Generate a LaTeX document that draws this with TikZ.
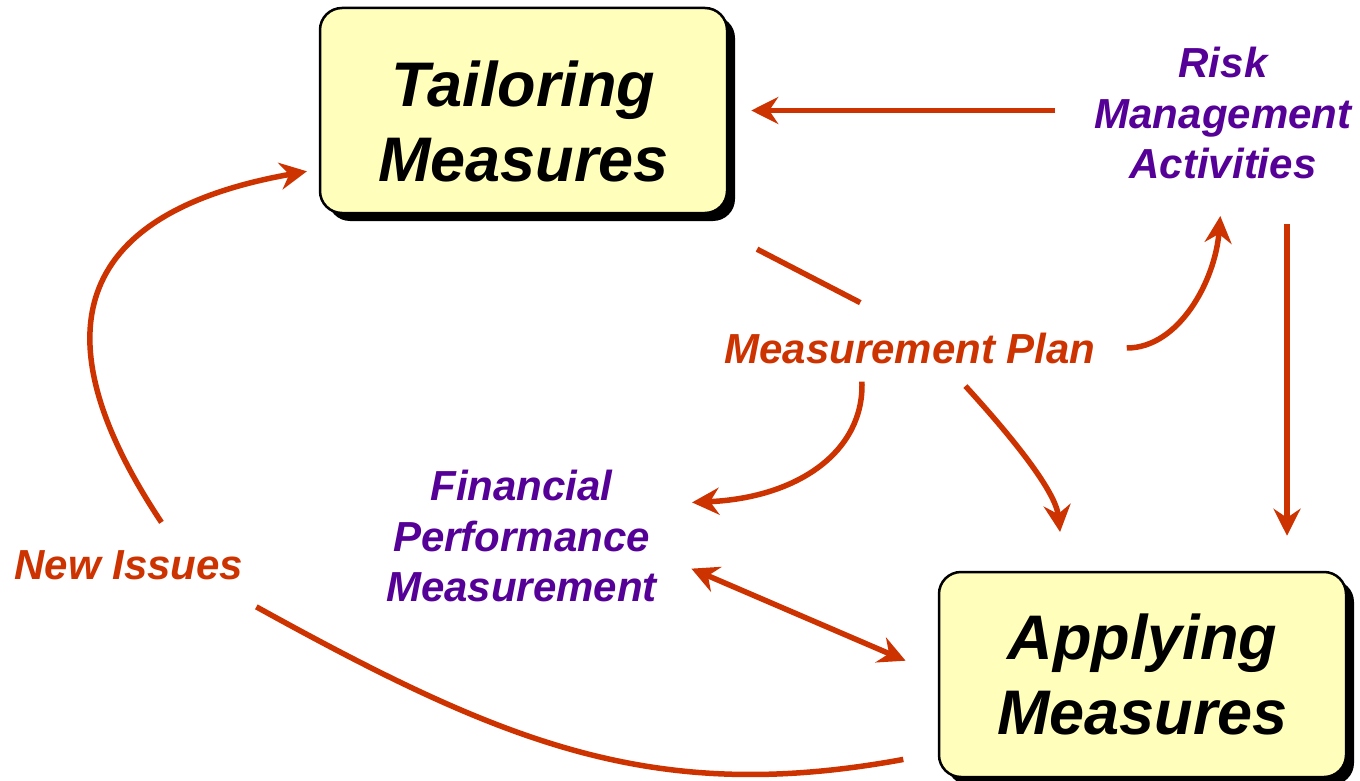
\documentclass[tikz,border=0pt]{standalone}
\usepackage{fontspec}
\setmainfont{Liberation Sans}
\usetikzlibrary{arrows.meta,shadows}
\definecolor{planred}{RGB}{204,51,0}
\definecolor{actpurple}{RGB}{85,0,150}
\definecolor{boxyellow}{RGB}{255,255,187}
\tikzset{
x=1pt, y=-1pt, % one unit is one pixel of the page, y going down
>={Stealth[length=27pt, width=27pt, inset=9pt]}, % big kite heads
measure/.style={draw=black, line width=2.5pt, rounded corners=22pt, fill=boxyellow,
  minimum width=407pt, minimum height=205pt,
  drop shadow={shadow xshift=8pt, shadow yshift=-8pt, fill=black, opacity=1}}, % the two main boxes
measuretext/.style={align=center, font=\fontsize{63}{75}\selectfont\bfseries\itshape}, % text in the boxes
activity/.style={align=center, inner sep=4pt, text=actpurple,
  font=\fontsize{42}{50.5}\selectfont\bfseries\itshape}, % purple texts
flow/.style={inner sep=4pt, text=planred,
  font=\fontsize{42}{50}\selectfont\bfseries\itshape}, % red texts
link/.style={draw=planred, line width=5.5pt}, % plain connector
arr/.style={link, ->}, % connector with a head
}

\begin{document}
\begin{tikzpicture}
\useasboundingbox (0,0) rectangle (1360,781);

\node[measure] (tail) at (523.5,110.5) {};
\node[measuretext] (tailtext) at ([yshift=-10.5pt]tail.center) {Tailoring\\Measures};
\node[measure] (appl) at (1142.5,674.5) {};
\node[measuretext] (appltext) at (appl.center) {Applying\\Measures};

\node[activity] (risk) at (1223,113) {Risk\\Management\\Activities};
\node[activity] (fin) at (521.5,536) {Financial\\Performance\\Measurement};
\node[flow] (plan) at (910,348) {Measurement Plan};
\node[flow, inner sep=12pt] (issues) at (129,565) {New Issues};

\draw[arr, shorten <=35pt, shorten >=23pt] (risk.west |- tail.east) -- (tail.east);
\draw[arr, shorten <=41pt, shorten >=35pt] ([xshift=64pt]risk.south) -- ([xshift=64pt]risk.south |- appl.north);
\draw[arr, shorten <=27pt, shorten >=33pt] (plan.east) .. controls +(79,0) and +(-8,98) .. (risk.south);
\draw[arr, shorten <=14pt, shorten >=31pt] (plan.202) .. controls +(3,83) and +(138,-6) .. (fin.13);
\draw[arr, shorten <=25pt, shorten >=39pt] (plan.-27) .. controls +(55,60) and +(-9,-82) .. (appl.127);
\draw[link, shorten <=76pt, shorten >=56pt] (tail.-32) -- (plan.north);
\draw[arr, <->, shorten <=33pt, shorten >=35pt] (fin.-8) -- (appl.west);
\draw[arr, shorten <=19pt, shorten >=12pt] (issues.32) .. controls +(-157,-236) and +(-208,37) .. (tail.196);
\draw[link, shorten <=35pt, shorten >=31pt] (appl.201) .. controls +(-283,52) and +(277,153) .. (issues.-15);

\end{tikzpicture}
\end{document}
